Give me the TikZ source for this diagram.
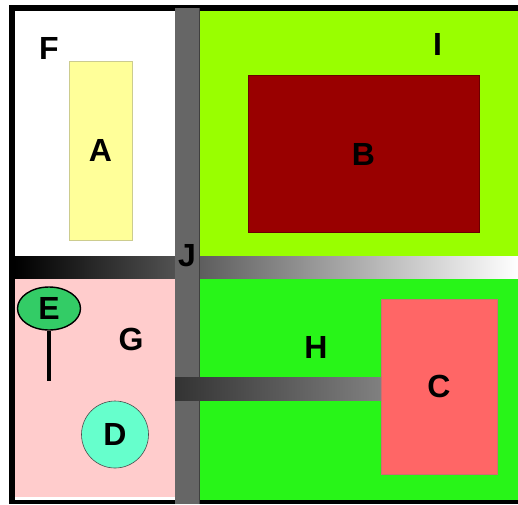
\documentclass[tikz,border=0pt]{standalone}
\usepackage{fontspec}
\setmainfont{Liberation Sans}
\usetikzlibrary{shapes.geometric}
\definecolor{limezone}{HTML}{99FF00}
\definecolor{darkred}{HTML}{990000}
\definecolor{paleyellow}{HTML}{FFFF99}
\definecolor{palepink}{HTML}{FFCCCC}
\definecolor{brightgreen}{RGB}{40,245,24}
\definecolor{salmon}{HTML}{FF6666}
\definecolor{aqua}{HTML}{66FFCC}
\definecolor{leaf}{HTML}{33CC66}
\definecolor{bargray}{HTML}{666666}
\begin{document}
\begin{tikzpicture}[x=1pt,y=-1pt,
  lbl/.style={font=\fontsize{32}{32}\selectfont\bfseries, inner sep=0pt, text=black},
  shapebox/.style={rectangle, inner sep=0pt, line width=0.8pt, font=\fontsize{32}{32}\selectfont\bfseries}]
\useasboundingbox (0,0) rectangle (518,504);
\fill[white] (0,0) rectangle (518,504);
% outer black frame
\fill[black] (9,5) rectangle (518,504);
% four zones
\fill[white] (15,11) rectangle (175,256);
\fill[limezone] (199,11) rectangle (518,256);
\draw[black, line width=0.8pt] (199,11) -- (199,256) -- (518,256);
\fill[palepink] (15,278) rectangle (175,497);
\fill[white] (15,497) rectangle (175,499.5);
\fill[brightgreen] (199,278) rectangle (518,500);
% horizontal corridor
\shade[left color=black, right color=white] (15,256) rectangle (518,278);
% vertical corridor
\fill[bargray] (175,8) rectangle (199,504);
\draw[black!75, line width=0.6pt] (199,8) -- (199,504);
% side corridor towards C
\shade[left color={rgb,255:red,51;green,51;blue,51}, right color={rgb,255:red,128;green,128;blue,128}] (175,377) rectangle (381,400);
% rooms
\node[shapebox, fill=paleyellow, draw=paleyellow!60!gray, minimum width=63pt, minimum height=179pt] (A) at (100.5,150.5) {A};
\node[shapebox, fill=darkred, draw=darkred!70!black, minimum width=231pt, minimum height=157pt] (B) at (363.5,154) {B};
\node[shapebox, fill=salmon, draw=salmon!60!gray, minimum width=116pt, minimum height=175pt] (C) at (439,386.5) {C};
\node[circle, inner sep=0pt, fill=aqua, draw=black!70, line width=0.6pt, minimum size=67pt, font=\fontsize{32}{32}\selectfont\bfseries] (D) at (115,434.5) {D};
\node[ellipse, inner sep=0pt, fill=leaf, draw=black, line width=1.4pt, minimum width=63pt, minimum height=43pt, font=\fontsize{32}{32}\selectfont\bfseries] (E) at (49,308.5) {E};
\coordinate (stem) at (49,381);
\draw[black, line width=4.5pt] (E) -- (stem);
% zone labels
\node[lbl] (F) at (49,48) {F};
\node[lbl] (I) at (437.5,44) {I};
\node[lbl] (G) at (131,339) {G};
\node[lbl] (H) at (316,347) {H};
\node[lbl] (J) at (187,256) {J};
\end{tikzpicture}
\end{document}
